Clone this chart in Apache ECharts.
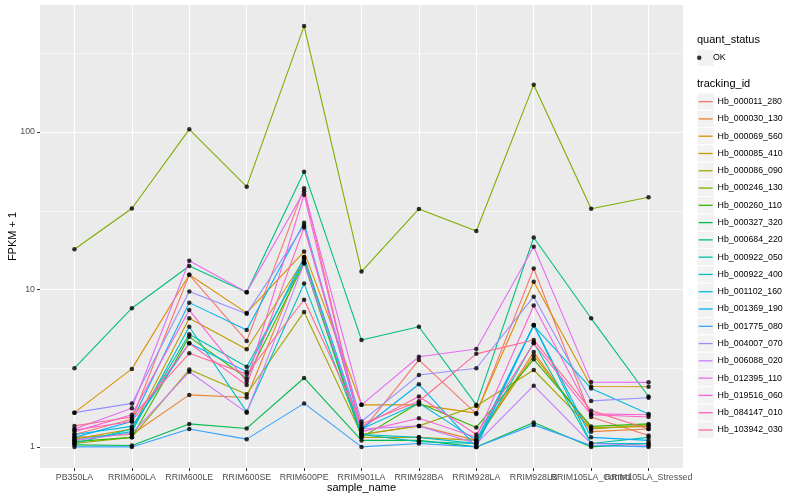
<!DOCTYPE html>
<html><head><meta charset="utf-8">
<script src="https://cdn.jsdelivr.net/npm/echarts@6/dist/echarts.min.js"></script>
<style>html,body{margin:0;padding:0;background:#fff}#c{width:800px;height:500px}</style>
</head><body><div id="c"></div>
<script>
// ---- data ----
const samples = ["PB350LA","RRIM600LA","RRIM600LE","RRIM600SE","RRIM600PE","RRIM901LA","RRIM928BA","RRIM928LA","RRIM928LB","RRIM105LA_Control","RRIM105LA_Stressed"];
const trackingIds = ["Hb_000011_280","Hb_000030_130","Hb_000069_560","Hb_000085_410","Hb_000086_090","Hb_000246_130","Hb_000260_110","Hb_000327_320","Hb_000684_220","Hb_000922_050","Hb_000922_400","Hb_001102_160","Hb_001369_190","Hb_001775_080","Hb_004007_070","Hb_006088_020","Hb_012395_110","Hb_019516_060","Hb_084147_010","Hb_103942_030"];
const yTickValues = [1, 10, 100];
const yMinorValues = [3.162, 31.62, 316.2];

const Hb_000011_280 = [1.2, 1.5, 12.4, 4.71, 44, 1.25, 3.57, 1.62, 13.6, 1.55, 1.18];
const Hb_000030_130 = [1.15, 1.2, 2.14, 2.06, 16.1, 1.2, 1.36, 1.1, 4.0, 1.25, 1.3];
const Hb_000069_560 = [1.65, 3.13, 12.4, 7.1, 17.4, 1.85, 1.85, 1.64, 11.2, 2.42, 2.41];
const Hb_000085_410 = [1.12, 1.3, 6.56, 4.17, 15.5, 1.15, 1.15, 1.1, 3.8, 1.32, 1.35];
const Hb_000086_090 = [1.05, 1.15, 3.1, 2.16, 7.2, 1.2, 1.36, 1.82, 3.08, 1.3, 1.38];
const Hb_000246_130 = [18, 32.7, 104, 45, 471, 13, 32.5, 23.5, 200, 32.6, 38.5];
const Hb_000260_110 = [1.08, 1.15, 5.0, 2.73, 14.7, 1.15, 1.9, 1.33, 3.6, 1.35, 1.4];
const Hb_000327_320 = [1.03, 1.02, 1.4, 1.31, 2.74, 1.1, 1.1, 1.0, 1.43, 1.0, 1.05];
const Hb_000684_220 = [3.16, 7.6, 14.1, 9.6, 56, 4.78, 5.8, 1.85, 21.4, 6.56, 2.09];
const Hb_000922_050 = [1.05, 1.3, 5.2, 3.23, 15, 1.2, 1.08, 1.05, 4.6, 1.05, 1.15];
const Hb_000922_400 = [1.1, 1.25, 5.8, 1.67, 10.9, 1.2, 1.15, 1.05, 5.95, 1.05, 1.05];
const Hb_001102_160 = [1.2, 1.35, 4.55, 3.0, 16, 1.3, 1.9, 1.1, 5.9, 2.35, 1.62];
const Hb_001369_190 = [1.15, 1.45, 8.25, 5.53, 26.5, 1.3, 2.5, 1.0, 5.95, 1.15, 1.1];
const Hb_001775_080 = [1.0, 1.0, 1.3, 1.12, 1.89, 1.0, 1.05, 1.0, 1.38, 1.02, 1.0];
const Hb_004007_070 = [1.65, 1.89, 9.7, 7.0, 25.5, 1.45, 2.86, 3.16, 9.0, 1.96, 2.05];
const Hb_006088_020 = [1.1, 1.22, 3.0, 1.65, 14.7, 1.3, 1.36, 1.05, 2.45, 1.05, 1.02];
const Hb_012395_110 = [1.3, 1.76, 15.2, 9.6, 42, 1.85, 3.74, 4.19, 18.7, 2.58, 2.57];
const Hb_019516_060 = [1.25, 1.6, 7.4, 2.6, 40, 1.25, 1.52, 1.15, 7.9, 1.62, 1.6];
const Hb_084147_010 = [1.28, 1.45, 4.55, 2.47, 24.8, 1.35, 2.09, 1.2, 4.55, 1.6, 1.55];
const Hb_103942_030 = [1.36, 1.55, 3.93, 2.9, 8.6, 1.4, 1.95, 3.9, 4.78, 1.7, 1.3];

const seriesValues = [Hb_000011_280,Hb_000030_130,Hb_000069_560,Hb_000085_410,Hb_000086_090,Hb_000246_130,Hb_000260_110,Hb_000327_320,Hb_000684_220,Hb_000922_050,Hb_000922_400,Hb_001102_160,Hb_001369_190,Hb_001775_080,Hb_004007_070,Hb_006088_020,Hb_012395_110,Hb_019516_060,Hb_084147_010,Hb_103942_030];

// ---- styling ----
const palette = ["#F8766D","#EA8331","#D89000","#C09B00","#A3A500","#7CAE00","#39B600","#00BB4E","#00BF7D","#00C1A3","#00BFC4","#00BAE0","#00B0F6","#35A2FF","#9590FF","#C77CFF","#E76BF3","#FA62DB","#FF62BC","#FF6C91"];
const FONT = "Liberation Sans, Arial, sans-serif";
const L = Math.log10;
const yMin = -0.134, yMax = 2.807;
const xIdx = samples.map((s, i) => i);
const xIdxEven = xIdx.filter(i => i % 2 === 0);
const xIdxOdd = xIdx.filter(i => i % 2 === 1);

const chart = echarts.init(document.getElementById('c'), null, {renderer: 'canvas'});

const lineSeries = trackingIds.map((id, i) => ({
  name: id, type: 'line', xAxisIndex: 0, yAxisIndex: 0,
  data: seriesValues[i].map((v, j) => [j, L(v)]),
  showSymbol: false, symbol: 'none', silent: true, z: 3,
  lineStyle: {color: palette[i], width: 1.1}, itemStyle: {color: palette[i]}
}));
const pts = [];
seriesValues.forEach(arr => arr.forEach((v, j) => pts.push([j, L(v)])));

const keyRects = [];
trackingIds.forEach((id, i) => {
  keyRects.push({type: 'rect', z: 1, shape: {x: 697, y: 93 + i * 17.28, width: 17.28, height: 17.28},
    style: {fill: '#F2F2F2', stroke: '#ffffff', lineWidth: 1}});
});
keyRects.push({type: 'rect', z: 1, shape: {x: 697, y: 49, width: 17.28, height: 17.28},
  style: {fill: '#F2F2F2', stroke: '#ffffff', lineWidth: 1}});

const xLabelStyle = {color: '#4D4D4D', fontSize: 8.8, fontFamily: FONT, margin: 5, hideOverlap: false, showMinLabel: true, showMaxLabel: true};
function xAxisFor(vals, withName) {
  const ax = {
    type: 'value', min: -0.6, max: 10.6, position: 'bottom', offset: 0,
    axisLine: {show: false, onZero: false},
    axisTick: {show: true, customValues: vals, length: 3, lineStyle: {color: '#333333', width: 1}},
    axisLabel: Object.assign({customValues: vals, formatter: v => samples[Math.round(v)]}, xLabelStyle),
    splitLine: {show: true, lineStyle: {color: '#ffffff', width: 1.1}}
  };
  if (withName) {
    ax.name = 'sample_name'; ax.nameLocation = 'middle'; ax.nameGap = 14; ax.nameMoveOverlap = false;
    ax.nameTextStyle = {color: '#000000', fontSize: 11, fontFamily: FONT};
  }
  return ax;
}

chart.setOption({
  animation: false,
  backgroundColor: '#ffffff',
  grid: {left: 40, right: 117, top: 5, bottom: 32, show: true, backgroundColor: '#EBEBEB', borderWidth: 0,
         containLabel: false, outerBoundsMode: 'none'},
  xAxis: [xAxisFor(xIdxEven, true), xAxisFor(xIdxOdd, false)],
  yAxis: [{
    type: 'value', min: yMin, max: yMax,
    axisLine: {show: false, onZero: false},
    axisTick: {show: true, customValues: yTickValues.map(L), length: 3, lineStyle: {color: '#333333', width: 1}},
    axisLabel: {customValues: yTickValues.map(L), formatter: v => String(Math.round(Math.pow(10, v))), color: '#4D4D4D', fontSize: 8.8, fontFamily: FONT, margin: 5},
    splitLine: {show: true, lineStyle: {color: '#ffffff', width: 1.1}},
    name: 'FPKM + 1', nameLocation: 'middle', nameGap: 22, nameRotate: 90, nameMoveOverlap: false,
    nameTextStyle: {color: '#000000', fontSize: 11, fontFamily: FONT}
  }, {
    type: 'value', min: yMin, max: yMax, position: 'left', offset: 0,
    axisLine: {show: false, onZero: false},
    axisTick: {show: false, customValues: yMinorValues.map(L)},
    axisLabel: {show: false, customValues: yMinorValues.map(L)},
    splitLine: {show: true, lineStyle: {color: '#ffffff', width: 0.55}}
  }],
  legend: [{
    data: trackingIds, orient: 'vertical', left: 698.6, top: 93,
    icon: 'rect', itemWidth: 14, itemHeight: 1.3, itemGap: 0, itemTextGap: 5,
    textStyle: {fontSize: 8.8, fontFamily: FONT, color: '#000000', lineHeight: 17.28, height: 17.28},
    selectedMode: false, padding: 0
  }, {
    data: ['OK'], orient: 'vertical', left: 697, top: 49,
    icon: 'circle', itemWidth: 17.28, itemHeight: 4.5, itemGap: 0, itemTextGap: 3,
    textStyle: {fontSize: 8.8, fontFamily: FONT, color: '#000000', lineHeight: 17.28, height: 17.28},
    selectedMode: false, padding: 0
  }],
  graphic: keyRects.concat([
    {type: 'text', z: 5, left: 697, top: 34, style: {text: 'quant_status', fontSize: 11, fontFamily: FONT, fill: '#000000'}},
    {type: 'text', z: 5, left: 697, top: 78, style: {text: 'tracking_id', fontSize: 11, fontFamily: FONT, fill: '#000000'}}
  ]),
  series: lineSeries.concat([{
    name: 'OK', type: 'scatter', data: pts, symbol: 'circle', symbolSize: 4.5, silent: true, z: 5,
    itemStyle: {color: '#000000'}
  }])
});
</script></body></html>
